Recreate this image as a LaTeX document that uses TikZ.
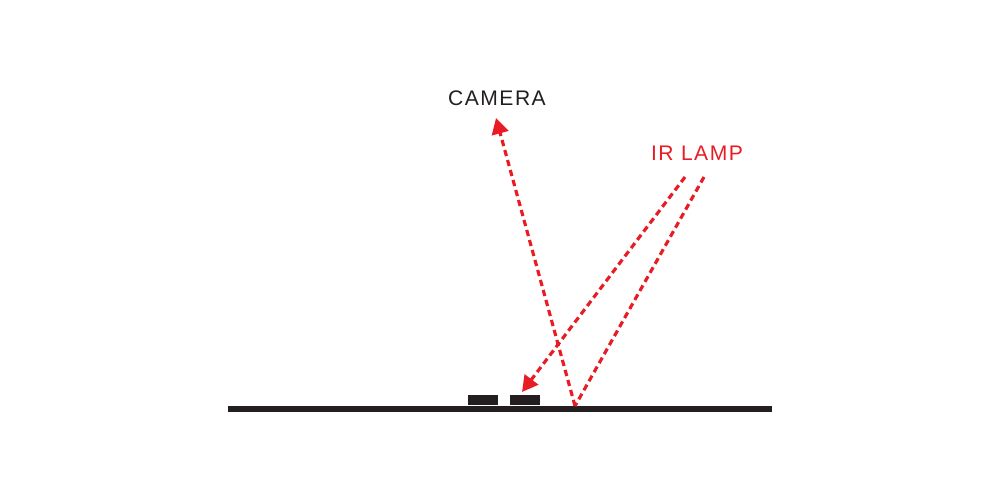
\documentclass[tikz,border=0pt]{standalone}
\usepackage{fontspec}
\setmainfont{Liberation Sans}
\newfontfamily\labelfont[LetterSpace=7]{Liberation Sans}
\usetikzlibrary{positioning,calc,arrows.meta}
\definecolor{irred}{RGB}{232,28,36}
\definecolor{floorgray}{RGB}{35,31,32}
\tikzset{
    ray/.style={irred, line width=1.8pt, dash pattern=on 3.6pt off 2.3pt},
    raytip/.style={-{Triangle[length=9pt,width=9.5pt]}},
    tag/.style={font=\labelfont\fontsize{12}{13}\selectfont, inner sep=0pt}
}

\begin{document}
\begin{tikzpicture}[x=0.02cm,y=-0.02cm]
    \useasboundingbox (0,0) rectangle (1000,500);
    % Floor
    \fill[floorgray] (228,406) rectangle (772,412);
    % Objects on the floor
    \foreach \x/\name in {468/objA, 510/objB} {
        \fill[floorgray] (\x,395) rectangle (\x+30,405);
    }
    % Labels
    \node[tag, text=floorgray] (camera) at (497,98) {CAMERA};
    \node[tag, text=irred] (lamp) at (697,153) {IR LAMP};
    % Points of the rays
    \coordinate (hit) at (575,406);
    \coordinate (camtip) at (496,118);
    \coordinate (lampA) at (685,177);
    \coordinate (lampB) at (704,177);
    \coordinate (objtip) at (522,392);
    % Rays
    \draw[ray] (lampB) -- (hit);
    \draw[ray, raytip] (hit) -- (camtip);
    \draw[ray, raytip] (lampA) -- (objtip);
\end{tikzpicture}
\end{document}
